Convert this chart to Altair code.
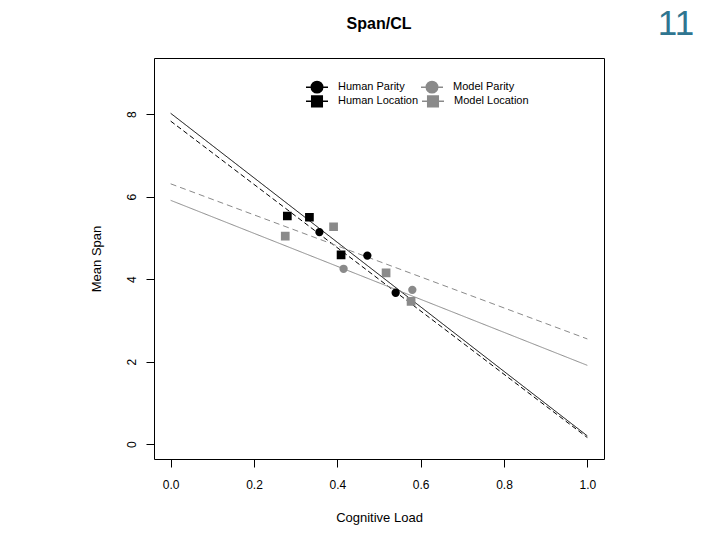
import altair as alt
import pandas as pd

# ---- data ----
series_names = ["Human Parity", "Human Location", "Model Parity", "Model Location"]
series_colors = ["#000000", "#000000", "#8a8a8a", "#8a8a8a"]
series_dashes = [[1, 0], [5, 3], [1, 0], [6, 4]]

fit_x = [0.0, 1.0]
fit_human_parity = [8.02, 0.20]
fit_human_location = [7.83, 0.16]
fit_model_parity = [5.91, 1.91]
fit_model_location = [6.31, 2.55]

hp_x = [0.357, 0.472, 0.540]
hp_y = [5.14, 4.57, 3.67]
hl_x = [0.280, 0.333, 0.409]
hl_y = [5.53, 5.50, 4.59]
mp_x = [0.415, 0.580]
mp_y = [4.25, 3.74]
ml_x = [0.275, 0.391, 0.517, 0.577]
ml_y = [5.04, 5.27, 4.15, 3.46]

x_ticks = [0.0, 0.2, 0.4, 0.6, 0.8, 1.0]
y_ticks = [0, 2, 4, 6, 8]

title_text = "Span/CL"
page_text = "11"

FONT = "Liberation Sans"

# ---- tables ----
fits = {
    "Human Parity": fit_human_parity,
    "Human Location": fit_human_location,
    "Model Parity": fit_model_parity,
    "Model Location": fit_model_location,
}
line_rows = []
for name, ys in fits.items():
    for xv, yv in zip(fit_x, ys):
        line_rows.append({"series": name, "x": xv, "y": yv})
lines_df = pd.DataFrame(line_rows)

parity_df = pd.DataFrame(
    [{"series": "Human Parity", "x": a, "y": b} for a, b in zip(hp_x, hp_y)]
    + [{"series": "Model Parity", "x": a, "y": b} for a, b in zip(mp_x, mp_y)]
)
location_df = pd.DataFrame(
    [{"series": "Human Location", "x": a, "y": b} for a, b in zip(hl_x, hl_y)]
    + [{"series": "Model Location", "x": a, "y": b} for a, b in zip(ml_x, ml_y)]
)

xscale = alt.Scale(domain=[-0.04, 1.04], nice=False, zero=False)
yscale = alt.Scale(domain=[-0.36, 9.36], nice=False, zero=False)

xaxis = alt.Axis(
    values=x_ticks, format=".1f", title="Cognitive Load", grid=False, domain=False,
    tickSize=8, tickColor="black", labelPadding=12, labelFontSize=12, labelFont=FONT,
    labelColor="black", titleFont=FONT, titleFontSize=13, titleFontWeight="normal",
    titleColor="black", titlePadding=21,
)
yaxis = alt.Axis(
    values=y_ticks, format="d", title="Mean Span", grid=False, domain=False,
    tickSize=8, tickColor="black", labelPadding=8, labelFontSize=12, labelFont=FONT,
    labelColor="black", labelAngle=270, labelAlign="center", labelBaseline="bottom",
    titleFont=FONT, titleFontSize=13, titleFontWeight="normal", titleColor="black",
    titlePadding=22,
)

circle_path = "M-0.52,0A0.52,0.52,0,1,1,0.52,0A0.52,0.52,0,1,1,-0.52,0Z M-1,0L1,0"
square_path = "M-0.48,-0.48H0.48V0.48H-0.48Z M-1,0L1,0"

lines = alt.Chart(lines_df).mark_line(strokeWidth=1, clip=True).encode(
    x=alt.X("x:Q", scale=xscale, axis=xaxis),
    y=alt.Y("y:Q", scale=yscale, axis=yaxis),
    detail="series:N",
    stroke=alt.Stroke("series:N", scale=alt.Scale(domain=series_names, range=series_colors), legend=None),
    strokeDash=alt.StrokeDash("series:N", scale=alt.Scale(domain=series_names, range=series_dashes), legend=None),
)

def legend_for(symbol, ly, colpad):
    return alt.Legend(
        title=None, orient="none", legendX=151, legendY=ly, direction="horizontal",
        symbolType=symbol, symbolSize=484, symbolStrokeWidth=1.5,
        labelFont=FONT, labelFontSize=11, labelColor="black", labelOffset=9,
        columnPadding=colpad, padding=0,
    )

par_dom = ["Human Parity", "Model Parity"]
par_rng = ["#000000", "#8a8a8a"]
loc_dom = ["Human Location", "Model Location"]
loc_rng = ["#000000", "#8a8a8a"]

parity_pts = alt.Chart(parity_df).mark_point(filled=True, shape="circle", size=40, opacity=1).encode(
    x=alt.X("x:Q", scale=xscale),
    y=alt.Y("y:Q", scale=yscale),
    fill=alt.Fill("series:N", scale=alt.Scale(domain=par_dom, range=par_rng),
                  legend=legend_for(circle_path, 17, 13)),
    stroke=alt.Stroke("series:N", scale=alt.Scale(domain=par_dom, range=par_rng),
                      legend=legend_for(circle_path, 17, 13)),
)

location_pts = alt.Chart(location_df).mark_point(filled=True, shape="square", size=45, opacity=1).encode(
    x=alt.X("x:Q", scale=xscale),
    y=alt.Y("y:Q", scale=yscale),
    fill=alt.Fill("series:N", scale=alt.Scale(domain=loc_dom, range=loc_rng),
                  legend=legend_for(square_path, 31, 0)),
    stroke=alt.Stroke("series:N", scale=alt.Scale(domain=loc_dom, range=loc_rng),
                      legend=legend_for(square_path, 31, 0)),
)

page_df = pd.DataFrame({"label": [page_text]})
page_num = alt.Chart(page_df).mark_text(
    font=FONT, fontSize=35, color="#2f7590", align="center", baseline="alphabetic"
).encode(text="label:N", x=alt.value(522), y=alt.value(-23))

title_df = pd.DataFrame({"label": [title_text]})
title_mark = alt.Chart(title_df).mark_text(
    font=FONT, fontSize=16, fontWeight="bold", color="black", align="center", baseline="alphabetic"
).encode(text="label:N", x=alt.value(225), y=alt.value(-29))

chart = (
    alt.layer(lines, parity_pts, location_pts, page_num, title_mark)
    .resolve_scale(fill="independent", stroke="independent", strokeDash="independent")
    .resolve_legend(fill="independent", stroke="independent")
    .properties(
        width=450, height=401,
        autosize=alt.AutoSizeParams(type="none"),
        padding={"left": 146, "top": 50, "right": 108, "bottom": 73},
        background="white",
    )
    .configure_view(stroke="black", strokeWidth=1)
)

chart.save("out.html", embed_options={"renderer": "svg", "actions": False})
